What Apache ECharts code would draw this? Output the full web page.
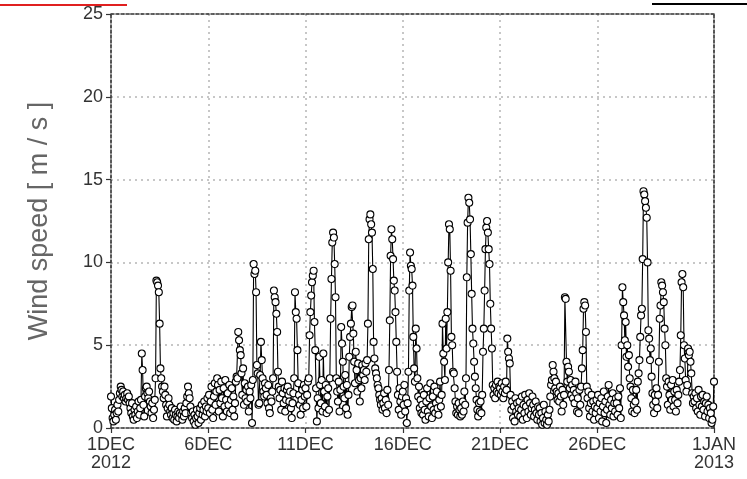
<!DOCTYPE html>
<html>
<head>
<meta charset="utf-8">
<script src="https://cdn.jsdelivr.net/npm/echarts@6/dist/echarts.min.js"></script>
<style>
html,body{margin:0;padding:0;background:#fff;}
#chart{width:747px;height:479px;}
</style>
</head>
<body>
<div id="chart"></div>
<script>
// Hourly wind speed [m/s], 1 DEC 2012 00h ... 1 JAN 2013 00h
const dec01 = [1.9,1.2,0.6,0.4,0.8,1.1,0.5,0.9,1.4,1.0,1.7,2.1,2.5,2.3,1.9,2.2,1.8,2.0,1.6,1.8,2.1,1.7,1.9,1.5];
const dec02 = [1.2,0.9,1.5,0.7,0.5,1.1,0.8,1.3,0.6,1.0,1.6,0.8,1.2,1.7,4.5,3.5,1.4,0.7,1.9,2.4,2.5,2.1,1.8,2.2];
const dec03 = [1.6,1.3,0.9,1.5,0.6,1.1,1.7,3.0,8.9,8.8,8.6,8.2,6.3,3.6,3.0,2.5,2.2,1.8,2.5,2.0,1.4,0.7,1.2,1.8];
const dec04 = [1.4,1.0,0.8,1.2,0.6,0.9,0.5,1.1,0.8,0.4,0.7,1.0,0.6,0.9,1.3,0.8,0.5,1.0,0.7,1.2,0.9,1.5,1.9,2.5];
const dec05 = [2.1,1.8,1.3,0.9,0.6,1.0,0.4,0.8,0.2,0.6,1.1,0.7,0.3,0.9,1.2,0.5,1.4,0.8,1.1,1.6,0.7,1.3,1.0,1.8];
const dec06 = [1.2,2.0,0.9,1.6,2.5,1.1,0.6,1.9,2.7,1.4,2.2,3.0,2.6,1.0,2.3,1.5,2.8,1.8,0.7,2.4,1.3,2.9,1.7,1.0];
const dec07 = [2.1,1.4,2.6,0.9,1.7,2.4,1.1,1.9,0.7,1.5,2.8,3.1,3.0,5.8,5.3,4.7,4.4,3.3,2.0,3.6,1.4,2.7,1.8,2.3];
const dec08 = [1.6,2.5,1.0,2.2,1.8,2.6,0.3,2.9,9.9,9.3,9.5,8.2,3.8,3.3,1.4,1.5,3.2,5.2,4.1,3.0,2.2,1.9,2.7,2.4];
const dec09 = [2.0,1.5,2.6,1.2,0.9,1.8,1.6,2.2,3.0,8.3,7.9,7.6,6.9,5.8,3.4,2.5,1.8,2.3,1.1,2.8,2.1,1.5,2.4,1.0];
const dec10 = [1.7,2.3,2.5,2.0,1.6,2.2,1.2,0.6,1.5,2.1,3.0,8.2,7.0,6.6,4.7,2.7,2.0,1.4,0.8,1.7,2.3,1.2,2.6,1.9];
const dec11 = [2.4,1.3,2.0,2.8,3.0,5.6,7.0,8.0,8.8,9.2,9.5,6.4,4.7,2.4,0.4,1.8,1.2,4.3,2.6,1.5,2.9,1.0,4.5,2.2];
const dec12 = [1.3,2.6,0.9,1.9,2.4,1.1,3.0,6.6,9.0,11.2,11.8,11.5,9.9,7.9,3.0,2.2,1.6,2.8,1.0,2.3,6.1,5.1,4.0,2.5];
const dec13 = [1.8,3.2,1.2,2.6,0.8,2.0,4.3,5.5,6.3,7.3,7.4,5.7,4.0,2.7,4.6,3.5,2.2,3.9,2.9,1.6,3.0,2.4,3.8,3.2];
const dec14 = [3.5,2.9,3.9,3.4,4.1,6.3,11.4,12.6,12.9,12.3,11.8,9.6,5.2,4.2,3.6,3.3,3.0,2.6,2.4,2.0,1.7,1.4,1.8,1.1];
const dec15 = [1.5,2.1,1.2,1.7,0.9,2.3,1.4,3.5,6.5,10.4,12.0,11.4,10.2,8.9,8.3,7.0,5.2,3.4,2.0,1.1,2.4,1.6,0.8,1.9];
const dec16 = [2.2,1.4,2.6,1.0,1.8,0.3,1.5,3.4,8.3,10.6,9.8,9.6,8.6,5.5,3.6,2.8,6.0,4.8,3.0,1.9,2.5,1.2,1.7,0.9];
const dec17 = [1.4,0.8,2.0,1.1,0.5,1.6,2.4,1.0,0.7,1.8,2.7,1.3,0.6,1.9,1.1,2.5,0.9,1.5,2.2,1.2,0.8,1.7,2.8,1.3];
const dec18 = [2.0,6.3,4.5,4.0,2.9,6.6,4.8,7.0,10.0,12.3,12.0,9.5,5.5,5.0,3.4,3.3,2.4,1.6,0.9,1.3,0.8,1.5,1.1,0.7];
const dec19 = [1.2,0.8,1.6,1.0,2.2,1.4,3.0,9.1,12.4,13.9,13.6,12.6,10.5,8.1,6.0,5.1,4.0,3.1,2.4,1.7,1.1,0.7,1.5,1.0];
const dec20 = [1.6,0.9,2.0,4.6,6.0,8.3,10.8,12.1,12.5,11.8,10.8,9.9,7.5,6.0,4.8,2.6,2.0,2.4,1.8,2.6,2.2,2.8,2.1,2.5];
const dec21 = [2.4,2.0,2.7,2.2,1.8,2.5,2.1,2.8,2.3,5.4,4.6,4.2,3.9,2.0,1.1,1.6,0.6,1.3,0.4,1.8,1.0,1.5,0.8,1.2];
const dec22 = [1.6,0.7,1.1,1.9,0.5,1.4,0.9,2.0,1.3,0.6,1.7,1.0,2.1,1.5,0.8,1.2,1.9,1.4,0.7,1.1,1.6,0.9,0.5,1.3];
const dec23 = [0.8,1.2,0.4,0.9,0.2,0.6,1.4,0.3,1.0,0.5,0.2,0.8,0.4,1.1,1.9,2.6,2.9,3.8,3.4,3.0,2.4,2.8,2.2,1.7];
const dec24 = [2.1,1.6,2.5,1.9,1.0,2.3,1.4,2.0,7.9,7.8,4.0,2.8,3.7,3.4,2.4,2.9,2.0,2.6,1.8,2.3,1.5,2.8,2.1,1.0];
const dec25 = [1.8,0.9,2.3,1.4,2.5,3.6,4.7,7.2,7.6,7.4,5.8,2.5,1.8,2.2,1.2,0.7,1.5,2.0,1.0,1.6,0.5,1.3,0.9,1.7];
const dec26 = [1.2,2.0,0.6,1.5,1.0,1.8,0.4,1.3,2.2,0.9,1.6,0.3,1.1,1.9,2.6,1.4,0.8,1.7,1.2,2.1,0.7,1.5,1.0,1.8];
const dec27 = [1.5,0.8,1.9,1.2,2.4,0.6,5.0,8.5,7.6,6.8,5.3,6.4,4.3,5.0,3.7,4.4,3.0,2.5,1.8,1.0,2.3,1.4,0.9,1.6];
const dec28 = [2.3,1.1,2.8,3.3,4.1,5.5,6.8,7.2,10.2,14.3,14.1,13.7,13.3,12.7,10.0,5.9,5.4,4.1,4.8,3.1,2.1,1.4,0.9,2.0];
const dec29 = [1.6,2.4,1.2,2.0,4.0,6.6,7.4,8.8,8.6,8.2,7.6,6.0,5.0,3.0,2.5,1.4,2.8,2.0,1.1,2.6,1.7,2.9,1.3,2.2];
const dec30 = [1.7,1.0,2.3,1.5,2.0,2.8,3.5,5.6,8.8,9.3,8.5,5.0,4.2,2.9,2.2,2.6,4.8,4.4,4.6,4.0,3.3,2.1,1.5,1.9];
const dec31 = [1.6,2.1,1.2,1.8,1.0,2.3,1.4,0.8,1.9,1.3,2.0,1.1,1.6,0.7,1.5,1.9,1.0,1.4,0.6,1.2,0.9,0.3,0.5,1.3];
const jan01 = [2.8];

// x tick positions (hours since 1 DEC 00h) and their labels
const xTickHours = [0, 120, 240, 360, 480, 600, 744];
const xTickLabels = ['1DEC\n2012', '6DEC', '11DEC', '16DEC', '21DEC', '26DEC', '1JAN\n2013'];
const yTicks = [0, 5, 10, 15, 20, 25];

const days = [dec01,dec02,dec03,dec04,dec05,dec06,dec07,dec08,dec09,dec10,dec11,dec12,dec13,dec14,dec15,dec16,
              dec17,dec18,dec19,dec20,dec21,dec22,dec23,dec24,dec25,dec26,dec27,dec28,dec29,dec30,dec31,jan01];
const values = [].concat(...days);
const seriesData = values.map((v, i) => [i, v]);

const frameLine = {show: true, onZero: false, lineStyle: {color: '#333', width: 1.6, type: [3, 2]}};
const gridLine = {show: true, lineStyle: {color: '#b5b5b5', width: 1.5, type: [2, 4]}};
const labelFont = {fontFamily: 'Liberation Sans, Arial, sans-serif', fontSize: 18, color: '#333'};

const chart = echarts.init(document.getElementById('chart'), null, {renderer: 'canvas'});
chart.setOption({
  animation: false,
  backgroundColor: '#fff',
  grid: {left: 111, right: 33, top: 14, bottom: 51, containLabel: false},
  graphic: [
    {type: 'rect', shape: {x: 0, y: 4, width: 127, height: 2}, style: {fill: '#e02020'}},
    {type: 'rect', shape: {x: 652, y: 3, width: 95, height: 2}, style: {fill: '#000'}}
  ],
  xAxis: [
    {
      type: 'value', min: 0, max: 744, position: 'bottom',
      axisLine: frameLine,
      axisTick: {show: true, inside: false, length: 5, customValues: xTickHours, lineStyle: {color: '#333', width: 1.2}},
      axisLabel: Object.assign({}, labelFont, {
        customValues: xTickHours, margin: 8, lineHeight: 18, showMinLabel: true, showMaxLabel: true,
        formatter: v => { const k = xTickHours.indexOf(Math.round(v)); return k >= 0 ? xTickLabels[k] : ''; }
      }),
      splitLine: gridLine
    },
    {
      type: 'value', min: 0, max: 744, position: 'top',
      axisLine: frameLine, axisTick: {show: false}, axisLabel: {show: false}, splitLine: {show: false}
    }
  ],
  yAxis: [
    {
      type: 'value', min: 0, max: 25, interval: 5, position: 'left',
      name: 'Wind speed [ m / s ]', nameLocation: 'middle', nameGap: 58, nameRotate: 90,
      nameTextStyle: {fontFamily: 'Liberation Sans, Arial, sans-serif', fontSize: 27, color: '#666'},
      axisLine: frameLine,
      axisTick: {show: true, inside: false, length: 5, lineStyle: {color: '#333', width: 1.2}},
      axisLabel: Object.assign({}, labelFont, {margin: 8, formatter: v => yTicks.indexOf(v) >= 0 ? String(v) : ''}),
      splitLine: gridLine
    },
    {
      type: 'value', min: 0, max: 25, interval: 5, position: 'right',
      axisLine: frameLine, axisTick: {show: false}, axisLabel: {show: false}, splitLine: {show: false}
    }
  ],
  series: [{
    type: 'line',
    xAxisIndex: 0, yAxisIndex: 0,
    data: seriesData,
    showAllSymbol: true,
    symbol: 'circle',
    symbolSize: 7,
    clip: true,
    lineStyle: {color: '#000', width: 1.1},
    itemStyle: {color: '#fff', borderColor: '#000', borderWidth: 1.1},
    emphasis: {disabled: true}
  }]
});
</script>
</body>
</html>
